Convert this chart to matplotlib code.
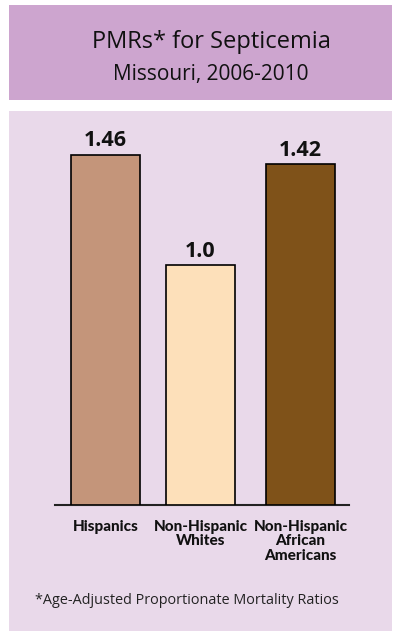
import matplotlib.pyplot as plt
from matplotlib.patches import Rectangle

# Data
groups = ["Hispanics", "Non-Hispanic\nWhites", "Non-Hispanic\nAfrican\nAmericans"]
pmr = [1.46, 1.0, 1.42]
value_labels = ["1.46", "1.0", "1.42"]
bar_colors = ["#C4957A", "#FDE0BA", "#7F5219"]

W, H = 396, 631
fig = plt.figure(figsize=(W / 100, H / 100), dpi=100)
fig.patch.set_facecolor("white")

def px(x0, y0, x1, y1):
    # pixel box (top-left origin) -> figure fraction rect
    return [x0 / W, 1 - y1 / H, (x1 - x0) / W, (y1 - y0) / H]

# header and chart panels
r = px(9, 5, 392, 100)
fig.patches.append(Rectangle((r[0], r[1]), r[2], r[3], transform=fig.transFigure,
                             facecolor="#CDA5CF", edgecolor="none", zorder=-2))
r = px(9, 111, 392, 631)
fig.patches.append(Rectangle((r[0], r[1]), r[2], r[3], transform=fig.transFigure,
                             facecolor="#E9D9EA", edgecolor="none", zorder=-2))

fig.text(211 / W, 1 - 48 / H, "PMRs* for Septicemia", ha="center", va="baseline",
         fontsize=17, family="Open Sans", color="#111111")
fig.text(211 / W, 1 - 80 / H, "Missouri, 2006-2010", ha="center", va="baseline",
         fontsize=15, family="Open Sans", color="#111111")

ax = fig.add_axes(px(55, 121, 349, 505))
ax.set_facecolor("none")
positions = [105.5, 200.5, 300.5]
ax.bar(positions, pmr, width=69, color=bar_colors, edgecolor="black", linewidth=1.2, zorder=3)
for x, v, lab in zip(positions, pmr, value_labels):
    ax.text(x, v + 0.035, lab, ha="center", va="baseline", fontsize=15.5,
            fontweight="bold", family="Open Sans", color="#111111")
ax.set_xlim(55, 349)
ax.set_ylim(0, 1.6)
for s in ["top", "right", "left"]:
    ax.spines[s].set_visible(False)
ax.spines["bottom"].set_linewidth(1.5)
ax.spines["bottom"].set_color("#222222")
ax.set_yticks([])
ax.set_xticks(positions)
ax.set_xticklabels(groups, fontsize=11, fontweight=900, family="Lato",
                   linespacing=1.02, color="#111111", va="top")
ax.tick_params(axis="x", length=0, pad=11)

fig.text(35 / W, 1 - 601 / H, "*Age-Adjusted Proportionate Mortality Ratios",
         ha="left", va="center", fontsize=10.4, family="Open Sans", color="#222222")

fig.savefig("out.png", dpi=100)
